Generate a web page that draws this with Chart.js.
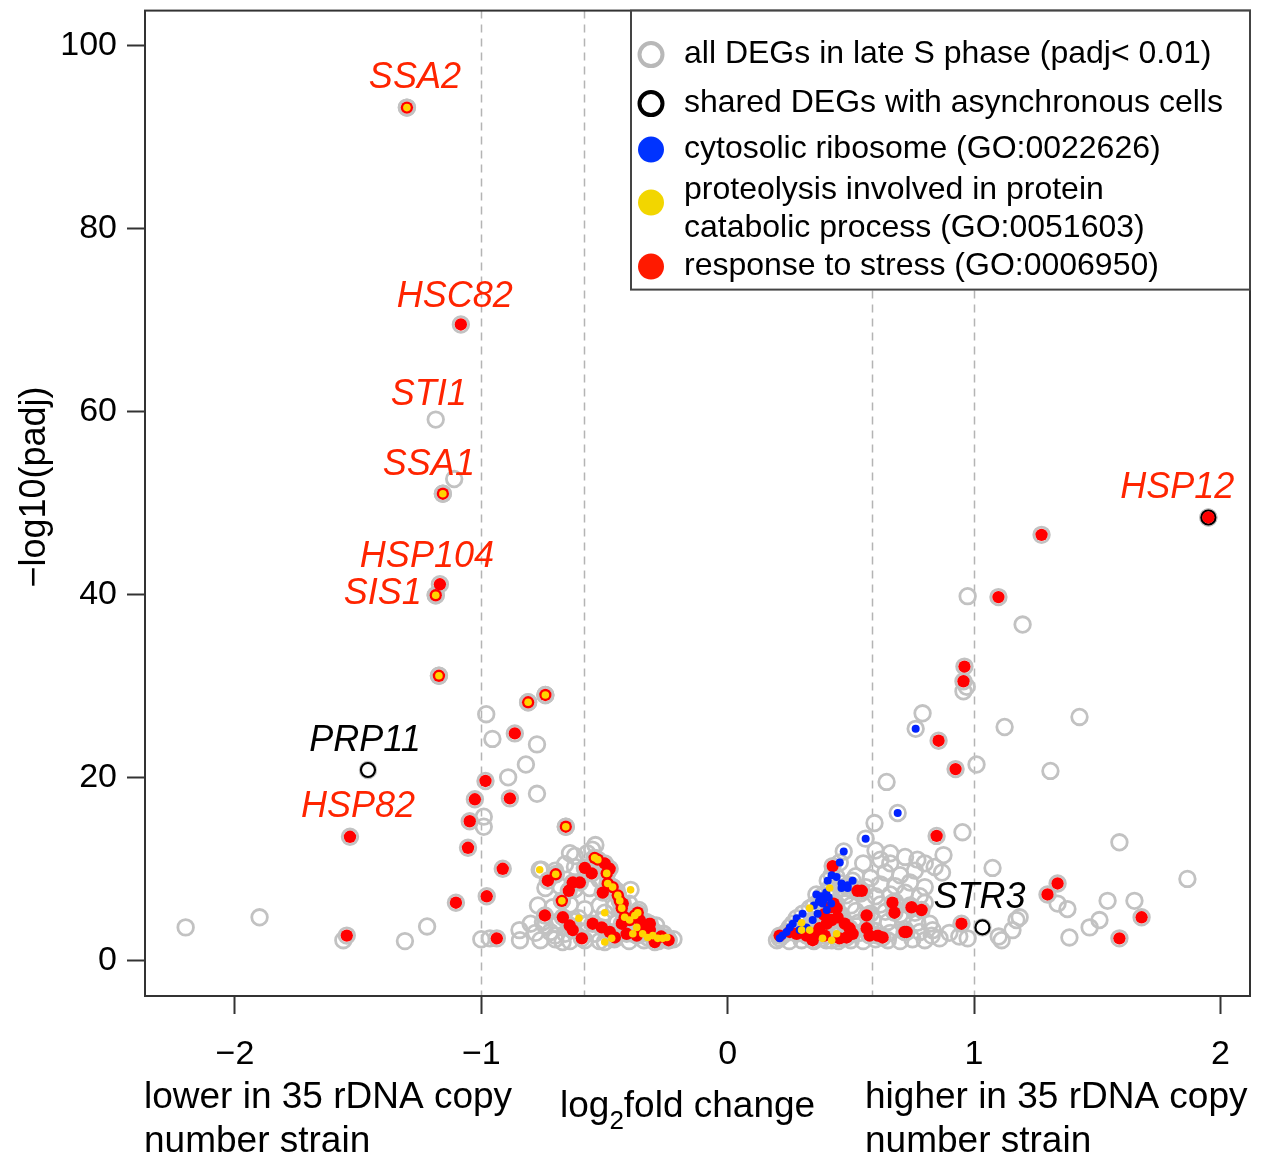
<!DOCTYPE html>
<html>
<head>
<meta charset="utf-8">
<script src="https://cdn.jsdelivr.net/npm/chart.js@4"></script>
<style>
  html, body { margin: 0; padding: 0; background: #fff; }
  #wrap { width: 1262px; height: 1162px; }
</style>
</head>
<body>
<div id="wrap"><canvas id="volcano" width="1262" height="1162"></canvas></div>
<script>
// axes
const xTicks = [-2, -1, 0, 1, 2];
const yTicks = [0, 20, 40, 60, 80, 100];
const cutoffs = [-1, -0.585, 0.585, 1];

// all DEGs in late S phase not in a GO group (log2FC, -log10 padj)
const otherDegs = [
  [-2.20, 3.6], [-1.90, 4.7], [-1.56, 2.2], [-1.31, 2.1], [-1.22, 3.7], [-1.185, 59.1], [-1.11, 52.6],
  [-0.98, 26.9], [-0.955, 24.2], [-0.774, 23.6], [-0.819, 21.4], [-0.891, 20.0], [-0.774, 18.2],
  [-0.99, 15.7], [-0.99, 14.6], [-0.537, 12.6],
  [-1.00, 2.3], [-0.965, 2.4], [-0.845, 3.3], [-0.843, 2.2], [-0.742, 3.8], [-0.70, 2.7], [-0.77, 6.0], [-0.67, 2.0], [-0.756, 9.9],
  [-0.64, 11.7], [-0.62, 11.4], [-0.57, 11.7], [-0.55, 12.1], [-0.66, 10.5], [-0.62, 10.2], [-0.56, 10.0], [-0.70, 9.8],
  [-0.74, 7.9], [-0.68, 8.1], [-0.62, 7.8], [-0.56, 7.9], [-0.52, 8.8], [-0.45, 7.6],
  [-0.71, 5.8], [-0.64, 6.1], [-0.58, 5.6], [-0.52, 6.0], [-0.46, 5.9], [-0.40, 6.2], [-0.36, 5.5],
  [-0.80, 4.0], [-0.75, 4.2], [-0.69, 3.9], [-0.63, 4.3], [-0.57, 4.0], [-0.51, 4.4], [-0.45, 4.1], [-0.39, 3.9], [-0.33, 4.2], [-0.29, 3.8],
  [-0.78, 3.0], [-0.72, 3.1], [-0.66, 2.9], [-0.60, 3.2], [-0.54, 2.9], [-0.48, 3.0], [-0.42, 3.1], [-0.36, 3.0], [-0.30, 3.2], [-0.26, 2.9],
  [-0.76, 2.2], [-0.70, 2.3], [-0.64, 2.1], [-0.58, 2.2], [-0.52, 2.1], [-0.46, 2.3], [-0.40, 2.1], [-0.34, 2.2], [-0.28, 2.1], [-0.24, 2.2], [-0.22, 2.3],
  [0.20, 2.2], [0.25, 2.1], [0.30, 2.2], [0.35, 2.1], [0.40, 2.2], [0.45, 2.1], [0.50, 2.2], [0.55, 2.1], [0.60, 2.3], [0.65, 2.2],
  [0.70, 2.1], [0.75, 2.3], [0.80, 2.2], [0.86, 2.4],
  [0.30, 3.0], [0.36, 3.2], [0.42, 3.0], [0.48, 3.3], [0.54, 3.0], [0.60, 3.2], [0.66, 3.0], [0.72, 3.4], [0.78, 3.1],
  [0.82, 4.0], [0.832, 3.3], [0.828, 2.7],
  [0.35, 4.2], [0.41, 4.0], [0.47, 4.3], [0.53, 4.1], [0.59, 4.4], [0.65, 4.2], [0.71, 4.5], [0.77, 4.1],
  [0.40, 5.2], [0.46, 5.0], [0.52, 5.4], [0.58, 5.1], [0.64, 5.3], [0.70, 5.0], [0.76, 5.2],
  [0.44, 6.2], [0.50, 6.0], [0.56, 6.3], [0.62, 6.1], [0.68, 6.4], [0.74, 6.0], [0.80, 6.3],
  [0.48, 7.1], [0.54, 7.3], [0.60, 7.0], [0.66, 7.2], [0.72, 7.4], [0.78, 7.0],
  [0.50, 8.2], [0.56, 8.0], [0.62, 8.3], [0.68, 8.1], [0.74, 8.5], [0.80, 8.0],
  [0.52, 9.2], [0.58, 9.0], [0.64, 9.6], [0.70, 9.3], [0.76, 9.8],
  [0.55, 10.6], [0.62, 11.0], [0.66, 10.6], [0.72, 11.3], [0.77, 11.0], [0.80, 10.6], [0.60, 12.0], [0.66, 11.7], [0.876, 11.5],
  [0.596, 15.0], [0.645, 19.5], [0.953, 14.0], [0.84, 10.2], [0.87, 9.6], [0.90, 3.0], [0.94, 2.6],
  [1.075, 10.1], [1.59, 12.9], [1.339, 6.2], [1.379, 5.6], [1.542, 6.5], [1.651, 6.5], [1.509, 4.4], [1.469, 3.6],
  [1.387, 2.5], [1.172, 4.4], [1.185, 4.7], [1.156, 3.3], [1.112, 2.2], [0.974, 2.4], [1.866, 8.9], [1.10, 2.6],
  [0.974, 39.8], [1.197, 36.7], [0.957, 29.4], [0.97, 29.9], [0.791, 27.0], [1.124, 25.5], [1.428, 26.6], [1.01, 21.4], [1.31, 20.7]
];

// response to stress (GO:0006950)
const stress = [
  [-1.083, 69.5], [-1.168, 41.1], [-1.533, 13.5], [1.951, 48.4], [1.274, 46.5], [1.099, 39.7], [0.961, 32.1], [0.957, 30.5],
  [0.856, 24.0], [0.925, 20.9], [0.848, 13.6],
  [-1.302, 93.2], [-1.156, 51.0], [-1.185, 39.9], [-1.172, 31.1], [-0.81, 28.2], [-0.74, 29.0], [-0.657, 14.6],
  [-1.546, 2.7], [-0.864, 24.8], [-0.983, 19.6], [-1.026, 17.6], [-0.884, 17.7], [-1.047, 15.2], [-1.054, 12.3],
  [-1.103, 6.3], [-0.978, 7.0], [-0.913, 10.0], [-0.937, 2.4],
  [-0.73, 8.7], [-0.629, 8.5], [-0.60, 8.5], [-0.645, 7.6], [-0.58, 10.1], [-0.552, 9.5], [-0.499, 10.6], [-0.479, 10.0],
  [-0.507, 7.4], [-0.426, 6.2], [-0.742, 4.9], [-0.669, 4.7], [-0.629, 3.3], [-0.592, 2.4], [-0.641, 3.8], [-0.548, 4.0],
  [-0.511, 3.6], [-0.479, 3.1], [-0.458, 2.5], [-0.43, 4.0], [-0.357, 4.4], [-0.337, 3.6], [-0.316, 4.0], [-0.369, 2.7],
  [-0.316, 3.3], [-0.296, 2.0], [-0.41, 2.9], [-0.27, 2.6], [-0.24, 2.2],
  [-0.698, 9.4], [-0.54, 11.2], [-0.527, 11.0], [-0.491, 9.5], [-0.487, 8.4], [-0.467, 8.0], [-0.446, 7.1], [-0.438, 6.5],
  [-0.43, 5.7], [-0.673, 6.5], [-0.418, 4.7], [-0.398, 4.4], [-0.377, 4.9], [-0.365, 5.2],
  [0.426, 10.3], [0.527, 7.6], [0.544, 7.6], [0.669, 6.3], [0.677, 5.2], [0.746, 5.8], [0.787, 5.5], [0.564, 4.9],
  [0.211, 2.7], [0.252, 3.1], [0.28, 2.9], [0.32, 2.7], [0.353, 2.9], [0.373, 3.5], [0.402, 4.0], [0.422, 4.4], [0.446, 4.7],
  [0.475, 4.0], [0.495, 3.5], [0.345, 2.2], [0.394, 2.7], [0.454, 2.4], [0.483, 2.5], [0.507, 2.9], [0.564, 3.5], [0.576, 2.7],
  [0.609, 2.7], [0.629, 2.5], [0.726, 3.1], [0.718, 3.1], [0.949, 4.0], [1.339, 8.4], [1.298, 7.2], [1.68, 4.7], [1.59, 2.4],
  [0.414, 5.8], [0.442, 5.7], [0.39, 5.0], [0.43, 6.2]
];

// proteolysis involved in protein catabolic process (GO:0051603)
const proteolysis = [
  [-1.302, 93.2], [-1.156, 51.0], [-1.185, 39.9], [-1.172, 31.1], [-0.81, 28.2], [-0.74, 29.0], [-0.657, 14.6],
  [-0.698, 9.4], [-0.54, 11.2], [-0.527, 11.0], [-0.491, 9.5], [-0.487, 8.4], [-0.467, 8.0], [-0.446, 7.1], [-0.438, 6.5],
  [-0.43, 5.7], [-0.673, 6.5], [-0.418, 4.7], [-0.398, 4.4], [-0.377, 4.9], [-0.365, 5.2],
  [-0.763, 9.9], [-0.394, 7.7], [-0.604, 4.6], [-0.499, 5.2], [-0.499, 2.0], [-0.471, 2.4], [-0.345, 2.9], [-0.325, 2.5],
  [-0.304, 2.7], [-0.284, 2.4], [-0.264, 2.4], [-0.247, 2.5], [-0.385, 2.9], [-0.369, 3.6],
  [0.414, 7.9], [0.333, 5.7], [0.30, 4.1], [0.30, 3.3], [0.333, 3.3], [0.385, 2.4], [0.442, 2.9], [0.422, 2.2]
];

// cytosolic ribosome (GO:0022626)
const ribosome = [
  [0.56, 13.3], [0.471, 11.9], [0.455, 10.7], [0.422, 9.3], [0.406, 8.7], [0.442, 9.1], [0.462, 8.4], [0.487, 8.2],
  [0.507, 8.7], [0.487, 7.9], [0.462, 7.9], [0.36, 7.2], [0.38, 7.0], [0.40, 7.4], [0.37, 6.4], [0.39, 6.6], [0.41, 6.9],
  [0.35, 6.0], [0.42, 6.2], [0.373, 6.5], [0.385, 6.2], [0.402, 5.5], [0.365, 5.1], [0.345, 4.4], [0.32, 3.6], [0.292, 3.3],
  [0.304, 5.1], [0.28, 4.6], [0.264, 4.0], [0.252, 3.6], [0.239, 3.1], [0.223, 2.7], [0.211, 2.4], [0.763, 25.3], [0.69, 16.1]
];

// shared DEGs with asynchronous cells
const shared = [[-1.46, 20.8], [1.034, 3.6], [1.951, 48.4]];

// named genes
const geneNames = ['SSA2', 'HSC82', 'STI1', 'SSA1', 'HSP104', 'SIS1', 'PRP11', 'HSP82', 'HSP12', 'STR3'];
const geneX = [-1.302, -1.083, -1.185, -1.156, -1.168, -1.185, -1.46, -1.533, 1.951, 1.034];
const geneY = [93.2, 69.5, 59.1, 51.0, 41.1, 39.9, 20.8, 13.5, 48.4, 3.6];
const geneGroup = ['stress', 'stress', 'stress', 'stress', 'stress', 'stress', 'shared', 'stress', 'stress', 'shared'];

// label offsets from the point, in pixels
const labelOffset = {
  SSA2: [8, -30], HSC82: [-6, -27], STI1: [-7, -25], SSA1: [-14, -29], HSP104: [-13, -27],
  SIS1: [-53, -1], PRP11: [-3, -29], HSP82: [8, -30], HSP12: [-31, -29], STR3: [-3, -29]
};

const FONT = 'Liberation Sans, Arial, Helvetica, sans-serif';
const toXY = arr => arr.map(p => ({ x: p[0], y: p[1] }));
const allDegs = [].concat(otherDegs, stress, proteolysis, ribosome, shared);

const legendItems = [
  { kind: 'ring', color: '#b8b8b8', dy: 44, lines: ['all DEGs in late S phase (padj< 0.01)'] },
  { kind: 'ring', color: '#000000', dy: 93, lines: ['shared DEGs with asynchronous cells'] },
  { kind: 'dot', color: '#0033ff', dy: 139, lines: ['cytosolic ribosome (GO:0022626)'] },
  { kind: 'dot', color: '#f2d600', dy: 192, lines: ['proteolysis involved in protein', 'catabolic process (GO:0051603)'] },
  { kind: 'dot', color: '#ff1a00', dy: 256, lines: ['response to stress (GO:0006950)'] }
];

const decorations = {
  id: 'decorations',
  beforeDatasetsDraw(chart) {
    const { ctx, chartArea: a, scales: { x } } = chart;
    ctx.save();
    ctx.strokeStyle = '#b4b4b4';
    ctx.lineWidth = 1.5;
    ctx.setLineDash([8, 6]);
    cutoffs.forEach(v => {
      const px = Math.round(x.getPixelForValue(v)) + 0.5;
      ctx.beginPath();
      ctx.moveTo(px, a.top);
      ctx.lineTo(px, a.bottom);
      ctx.stroke();
    });
    ctx.restore();
  },
  afterDatasetsDraw(chart) {
    const { ctx, chartArea: a, scales: { x, y } } = chart;
    ctx.save();

    // gene labels
    ctx.font = 'italic 36px ' + FONT;
    ctx.textAlign = 'center';
    ctx.textBaseline = 'middle';
    geneNames.forEach((g, i) => {
      const off = labelOffset[g];
      ctx.fillStyle = geneGroup[i] === 'shared' ? '#000' : '#ff2400';
      ctx.fillText(g, x.getPixelForValue(geneX[i]) + off[0], y.getPixelForValue(geneY[i]) + off[1]);
    });

    // plot frame
    ctx.strokeStyle = '#333';
    ctx.lineWidth = 2;
    ctx.strokeRect(a.left, a.top, a.right - a.left, a.bottom - a.top);

    // legend
    const lw = 619, lh = 279;
    const lx = a.right - lw, ly = a.top;
    ctx.fillStyle = '#fff';
    ctx.fillRect(lx, ly, lw, lh);
    ctx.strokeStyle = '#444';
    ctx.strokeRect(lx, ly, lw, lh);
    ctx.font = '32px ' + FONT;
    ctx.textAlign = 'left';
    legendItems.forEach(it => {
      const cy = ly + it.dy;
      ctx.beginPath();
      if (it.kind === 'ring') {
        ctx.arc(lx + 20, cy, 11.5, 0, Math.PI * 2);
        ctx.lineWidth = 4;
        ctx.strokeStyle = it.color;
        ctx.stroke();
      } else {
        ctx.arc(lx + 20, cy, 13, 0, Math.PI * 2);
        ctx.fillStyle = it.color;
        ctx.fill();
      }
      ctx.fillStyle = '#000';
      if (it.lines.length === 1) {
        ctx.fillText(it.lines[0], lx + 53, cy);
      } else {
        ctx.fillText(it.lines[0], lx + 53, cy - 12);
        ctx.fillText(it.lines[1], lx + 53, cy + 26);
      }
    });

    // axis texts
    ctx.fillStyle = '#000';
    ctx.font = '37px ' + FONT;
    ctx.fillText('lower in 35 rDNA copy', 144, 1098);
    ctx.fillText('number strain', 144, 1142);
    ctx.fillText('higher in 35 rDNA copy', 865, 1098);
    ctx.fillText('number strain', 865, 1142);
    let tx = 560;
    ctx.fillText('log', tx, 1107);
    tx += ctx.measureText('log').width;
    ctx.font = '26px ' + FONT;
    ctx.fillText('2', tx, 1122);
    tx += ctx.measureText('2').width;
    ctx.font = '37px ' + FONT;
    ctx.fillText('fold change', tx, 1107);

    ctx.translate(35, 487);
    ctx.rotate(-Math.PI / 2);
    ctx.textAlign = 'center';
    ctx.font = '36px ' + FONT;
    ctx.fillText('\u2212log10(padj)', 0, 0);
    ctx.restore();
  }
};

const minusFmt = v => (v < 0 ? '\u2212' + Math.abs(v) : String(v));

new Chart(document.getElementById('volcano'), {
  type: 'scatter',
  data: {
    datasets: [
      { label: 'all DEGs', data: toXY(allDegs), order: 5, pointRadius: 7.8, borderWidth: 2.8,
        borderColor: '#c2c2c2', backgroundColor: 'rgba(0,0,0,0)' },
      { label: 'shared', data: toXY(shared), order: 4, pointRadius: 7, borderWidth: 2.2,
        borderColor: '#000', backgroundColor: 'rgba(0,0,0,0)' },
      { label: 'stress', data: toXY(stress), order: 3, pointRadius: 6.2, borderWidth: 0,
        backgroundColor: '#ff0000' },
      { label: 'ribosome', data: toXY(ribosome), order: 2, pointRadius: 4, borderWidth: 0,
        backgroundColor: '#0022ff' },
      { label: 'proteolysis', data: toXY(proteolysis), order: 1, pointRadius: 3.8, borderWidth: 0,
        backgroundColor: '#ffd400' }
    ]
  },
  options: {
    responsive: false,
    animation: false,
    devicePixelRatio: 1,
    layout: { padding: { top: 8, right: 12, left: 0, bottom: 0 } },
    plugins: { legend: { display: false }, tooltip: { enabled: false } },
    elements: { point: { hoverRadius: 7 } },
    scales: {
      x: {
        type: 'linear', min: -2.365, max: 2.12,
        afterBuildTicks: s => { s.ticks = xTicks.map(v => ({ value: v })); },
        afterFit: s => { s.height = 166; s.paddingLeft = 0; s.paddingRight = 0; },
        ticks: { callback: minusFmt, font: { size: 34, family: FONT }, color: '#000', padding: 20, maxRotation: 0, autoSkip: false },
        grid: { drawOnChartArea: false, drawTicks: true, tickLength: 18, tickWidth: 2, tickColor: '#333' },
        border: { display: false }
      },
      y: {
        type: 'linear', min: -3.9, max: 103.8,
        afterBuildTicks: s => { s.ticks = yTicks.map(v => ({ value: v })); },
        afterFit: s => { s.width = 145; s.paddingTop = 0; s.paddingBottom = 0; },
        ticks: { callback: minusFmt, font: { size: 34, family: FONT }, color: '#000', padding: 10, autoSkip: false },
        grid: { drawOnChartArea: false, drawTicks: true, tickLength: 18, tickWidth: 2, tickColor: '#333' },
        border: { display: false }
      }
    }
  },
  plugins: [decorations]
});
</script>
</body>
</html>
